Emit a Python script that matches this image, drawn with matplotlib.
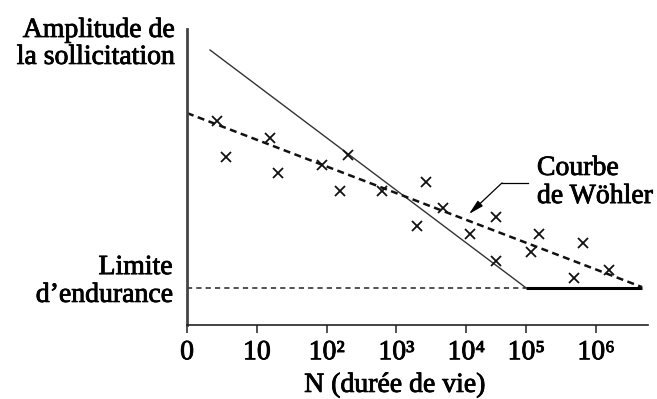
import matplotlib
matplotlib.use("Agg")
import matplotlib.pyplot as plt
import matplotlib.patheffects as pe

plt.rcParams['font.family'] = ['Liberation Serif', 'DejaVu Serif']

# x is in decades of N (tick positions on the sketch axis), y is amplitude (0-100)
tick_pos = [0, 1, 2, 3, 4, 4.86, 5.86]
tick_labels = ['0', '10', '10\u00b2', '10\u00b3', '10\u2074', '10\u2075', '10\u2076']

# test results (crosses)
test_x = [0.425, 0.559, 1.189, 1.308, 1.930, 2.307, 2.185, 2.798, 3.424, 3.672,
          3.299, 4.427, 4.054, 5.047, 4.924, 5.669, 4.427, 6.050, 5.544]
test_y = [69.0, 56.9, 63.1, 51.2, 54.1, 57.3, 45.4, 45.4, 48.4, 39.4,
          33.4, 36.5, 30.6, 30.7, 24.6, 27.8, 21.7, 18.6, 15.8]

# Wöhler curve (dashed fit through the points)
woehler_x = [0.0, 6.52]
woehler_y = [71.6, 12.8]

# idealised solid line reaching the endurance limit at 10^5
ideal_x = [0.33, 4.86]
ideal_y = [92.9, 12.5]

endurance = 12.5
end_x = 6.52

# slightly heavier text strokes, like a printed figure
heavy = [pe.withStroke(linewidth=0.6, foreground='black')]

fig = plt.figure(figsize=(6.57, 3.99), dpi=100)
ax = fig.add_axes([187 / 657, 74 / 399, 461 / 657, 296 / 399])

ax.plot(ideal_x, ideal_y, color='#333333', lw=1.0)
ax.plot([0, ideal_x[1]], [endurance, endurance], color='#222222', lw=1.1,
        linestyle=(0, (3.4, 2.7)))
ax.plot([ideal_x[1], end_x], [endurance, endurance], color='black', lw=2.2,
        solid_capstyle='butt')
ax.plot(woehler_x, woehler_y, color='#111111', lw=1.8, linestyle=(0, (2.8, 1.8)))
ax.plot(test_x, test_y, linestyle='none', marker='x', color='#111111',
        markersize=6.5, markeredgewidth=1.3)

# leader arrow for the curve label
ax.plot([4.885, 4.513], [48.0, 48.0], color='black', lw=0.9)
ax.annotate('', xy=(4.04, 37.5), xytext=(4.513, 48.0),
            arrowprops=dict(arrowstyle='-|>,head_length=0.9,head_width=0.22',
                            color='black', lw=0.9, shrinkA=0, shrinkB=0))

txt = dict(fontsize=20, va='baseline', path_effects=heavy)
ax.text(5.014, 50.7, 'Courbe', ha='left', **txt)
ax.text(5.014, 41.2, 'de Wöhler', ha='left', **txt)

# axis captions
ax.text(-0.172, 97.3, 'Amplitude de', ha='right', **txt)
ax.text(-0.172, 88.2, 'la sollicitation', ha='right', **txt)
ax.text(-0.2, 17.2, 'Limite', ha='right', **txt)
ax.text(-0.2, 7.8, 'd\u2019endurance', ha='right', **txt)
ax.text(2.98, -22.6, 'N (durée de vie)', ha='center', **txt)

ax.set_xlim(0, 6.605)
ax.set_ylim(0, 100)
ax.set_xticks(tick_pos)
ax.set_xticklabels(tick_labels, fontsize=20)
for lab in ax.get_xticklabels():
    lab.set_path_effects(heavy)
ax.set_yticks([])
ax.tick_params(axis='x', direction='out', length=6, width=1.1, pad=5, color='#222222')
for side in ['top', 'right']:
    ax.spines[side].set_visible(False)
ax.spines['left'].set_color('#444444')
ax.spines['left'].set_linewidth(2)
ax.spines['bottom'].set_color('#222222')
ax.spines['bottom'].set_linewidth(1.2)

fig.savefig('out.png', dpi=100)
